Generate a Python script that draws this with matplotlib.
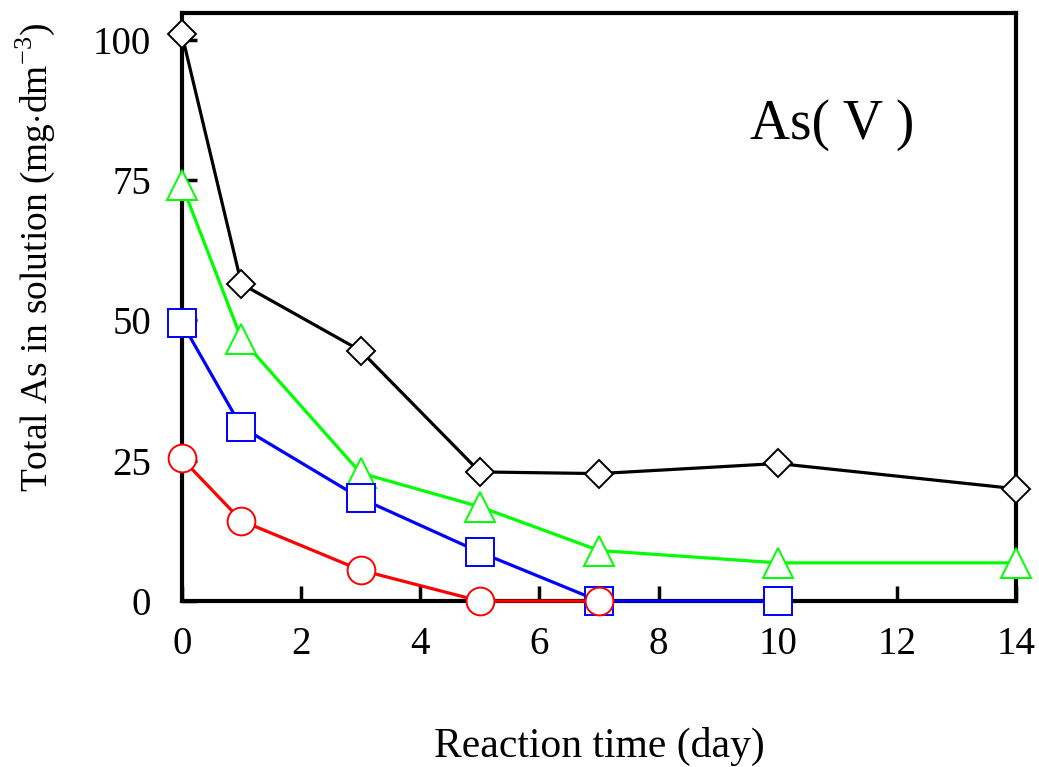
import matplotlib
matplotlib.use("Agg")
from matplotlib import pyplot as plt

plt.rcParams["font.family"] = ["Liberation Serif", "DejaVu Serif"]
plt.rcParams["mathtext.fontset"] = "custom"
plt.rcParams["mathtext.rm"] = "Liberation Serif"

days_diamond = [0, 1, 3, 5, 7, 10, 14]
as_diamond = [101, 56.5, 44.6, 23.0, 22.7, 24.5, 20.0]

days_triangle = [0, 1, 3, 5, 7, 10, 14]
as_triangle = [74.2, 46.7, 22.8, 16.8, 9.0, 6.8, 6.8]

days_square = [0, 1, 3, 5, 7, 10]
as_square = [49.6, 31.0, 18.3, 8.7, 0.0, 0.0]

days_circle = [0, 1, 3, 5, 7]
as_circle = [25.4, 14.3, 5.5, 0.0, 0.0]

x_ticks = [0, 2, 4, 6, 8, 10, 12, 14]
y_ticks = [0, 25, 50, 75, 100]

fig = plt.figure(figsize=(10.39, 7.67), dpi=100, facecolor="white")
ax = fig.add_axes([0.175, 0.2164, 0.803, 0.767])

series = [
    (days_diamond, as_diamond, "black", "D", 14.5),
    (days_triangle, as_triangle, "#00ff00", "^", 22),
    (days_square, as_square, "#0000ff", "s", 20),
    (days_circle, as_circle, "#ff0000", "o", 20),
]
for x, y, color, marker, ms in series:
    ax.plot(
        x, y,
        color=color,
        linewidth=2.3,
        marker=marker,
        markersize=ms,
        markerfacecolor="white",
        markeredgecolor=color,
        markeredgewidth=1.4,
        clip_on=False,
        zorder=3,
    )

ax.set_xlim(0, 14)
ax.set_ylim(0, 104.8)
ax.set_xticks(x_ticks)
ax.set_yticks(y_ticks)
ax.tick_params(direction="in", length=11, width=2.5, labelsize=28)
ax.tick_params(axis="x", pad=18)
ax.tick_params(axis="y", pad=22)
for spine in ax.spines.values():
    spine.set_linewidth(3)

ax.set_xlabel("Reaction time (day)", fontsize=30, labelpad=46)
ax.set_ylabel(r"Total As in solution (mg$\cdot$dm$^{-3}$)", fontsize=27)
ax.yaxis.set_label_coords(-0.150, 0.585)

ax.text(0.779, 0.81, "As( V )", transform=ax.transAxes, fontsize=40, ha="center", va="center")

plt.savefig("out.png", dpi=100)
